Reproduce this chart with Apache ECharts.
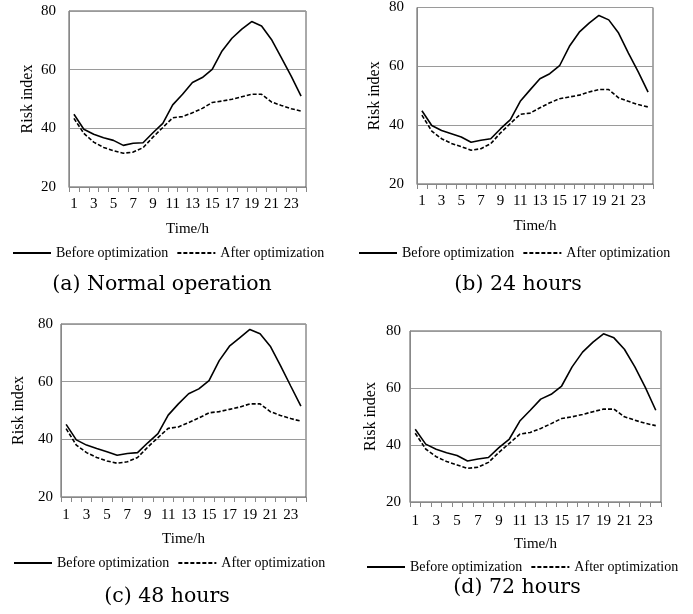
<!DOCTYPE html>
<html>
<head>
<meta charset="utf-8">
<script src="https://cdn.jsdelivr.net/npm/echarts@6/dist/echarts.min.js"></script>
<style>
html,body{margin:0;padding:0;background:#fff;}
#chart{width:693px;height:614px;}
</style>
</head>
<body>
<div id="chart"></div>
<script>
// ---- data ----
var hours = ['1','2','3','4','5','6','7','8','9','10','11','12','13','14','15','16','17','18','19','20','21','22','23','24'];
var beforeNormal = [44.8,39.7,38.0,36.8,35.9,34.2,34.9,35.1,38.5,41.7,48.0,51.6,55.6,57.3,60.1,66.4,70.7,73.8,76.4,74.9,70.3,64.1,57.8,51.0];
var afterNormal  = [43.4,38.3,35.3,33.5,32.4,31.5,31.9,33.4,37.0,40.3,43.6,44.0,45.3,46.8,48.8,49.3,49.9,50.8,51.6,51.6,49.0,47.8,46.7,45.9];
var before24 = [44.9,39.9,38.2,37.1,36.0,34.2,34.9,35.4,38.8,41.9,48.1,52.0,55.8,57.5,60.2,66.8,71.6,74.7,77.3,75.8,71.3,64.5,58.1,51.2];
var after24  = [43.4,38.0,35.4,33.8,32.7,31.5,32.0,33.7,37.4,40.6,43.7,44.1,45.9,47.6,49.0,49.6,50.2,51.3,52.1,52.1,49.3,48.1,47.0,46.2];
var before48 = [45.2,39.8,38.0,36.8,35.7,34.5,35.1,35.4,38.8,42.0,48.4,52.3,55.8,57.5,60.4,67.3,72.3,75.2,78.1,76.6,72.3,65.6,58.5,51.5];
var after48  = [43.7,38.0,35.4,33.7,32.5,31.7,32.2,33.7,37.3,40.6,43.8,44.3,45.8,47.4,49.2,49.6,50.4,51.2,52.3,52.3,49.6,48.3,47.2,46.3];
var before72 = [45.5,40.3,38.5,37.3,36.3,34.4,35.1,35.6,39.1,42.1,48.4,52.2,56.1,57.8,60.7,67.4,72.6,76.1,79.0,77.6,73.6,67.4,60.2,52.2];
var after72  = [44.1,38.6,35.9,34.2,33.0,31.8,32.2,33.9,37.4,40.6,43.8,44.4,45.8,47.5,49.3,49.9,50.7,51.7,52.6,52.6,49.9,48.7,47.6,46.8];
var yTicks = [20, 40, 60, 80];
var seriesNames = ['Before optimization', 'After optimization'];
var xName = 'Time/h';
var yName = 'Risk index';
var captions = ['(a) Normal operation', '(b) 24 hours', '(c) 48 hours', '(d) 72 hours'];

// ---- layout ----
var panels = [
  {grid:{left:69, top:11, width:237, height:176}, before:beforeNormal, after:afterNormal, ylm:13, xlm:10, ng:33, xng:35, cap:[162,285], leg:[7,241]},
  {grid:{left:417, top:7, width:236, height:177}, before:before24, after:after24, ylm:13, xlm:10, ng:34, xng:35, cap:[518,285], leg:[353,241]},
  {grid:{left:61, top:324, width:245, height:173}, before:before48, after:after48, ylm:8, xlm:11, ng:34, xng:35, cap:[167,597], leg:[8,551]},
  {grid:{left:410, top:331, width:251, height:171}, before:before72, after:after72, ylm:9, xlm:12, ng:31, xng:35, cap:[517,588], leg:[361,555]}
];

var serif = 'Liberation Serif';
var grids = [], xAxes = [], yAxes = [], series = [], legends = [], graphics = [];
panels.forEach(function(p, i){
  grids.push(Object.assign({show:true, borderColor:'#555', borderWidth:1, backgroundColor:'transparent'}, p.grid));
  xAxes.push({
    type:'category', gridIndex:i, data:hours, boundaryGap:true,
    name:xName, nameLocation:'middle', nameGap:p.xng,
    nameTextStyle:{fontFamily:serif, fontSize:15, color:'#000'},
    axisLine:{lineStyle:{color:'#888', width:1}},
    axisTick:{show:true, interval:0, length:5, lineStyle:{color:'#888'}},
    axisLabel:{interval:1, margin:p.xlm, fontFamily:serif, fontSize:15, color:'#000'},
    splitLine:{show:false}
  });
  yAxes.push({
    type:'value', gridIndex:i, min:yTicks[0], max:yTicks[yTicks.length-1], interval:20,
    name:yName, nameLocation:'middle', nameGap:p.ng,
    nameTextStyle:{fontFamily:serif, fontSize:16, color:'#000'},
    axisLine:{show:true, lineStyle:{color:'#888'}},
    axisTick:{show:false},
    axisLabel:{margin:p.ylm, fontFamily:serif, fontSize:15, color:'#000'},
    splitLine:{show:true, lineStyle:{color:'#9a9a9a', width:1}}
  });
  series.push({
    name:seriesNames[0], type:'line', xAxisIndex:i, yAxisIndex:i, data:p.before,
    symbol:'none', smooth:false, lineStyle:{color:'#000', width:1.6, type:'solid'},
    itemStyle:{color:'#000'}, z:3
  });
  series.push({
    name:seriesNames[1], type:'line', xAxisIndex:i, yAxisIndex:i, data:p.after,
    symbol:'none', smooth:false, lineStyle:{color:'#000', width:1.6, type:[4,2]},
    itemStyle:{color:'#000'}, z:3
  });
  legends.push({
    left:p.leg[0], top:p.leg[1], orient:'horizontal', itemWidth:38, itemHeight:14, itemGap:8,
    data:seriesNames, selectedMode:false,
    itemStyle:{opacity:0},
    lineStyle:{width:2},
    textStyle:{fontFamily:serif, fontSize:14, color:'#000'}
  });
  graphics.push({
    type:'text', x:p.cap[0], y:p.cap[1],
    style:{text:captions[i], fontFamily:'DejaVu Serif', fontSize:20.5, fill:'#000', textAlign:'center', textVerticalAlign:'middle'}
  });
});

var chart = echarts.init(document.getElementById('chart'), null, {renderer:'canvas'});
chart.setOption({
  animation:false,
  backgroundColor:'#fff',
  grid:grids, xAxis:xAxes, yAxis:yAxes, series:series, legend:legends,
  graphic:graphics
});
</script>
</body>
</html>
